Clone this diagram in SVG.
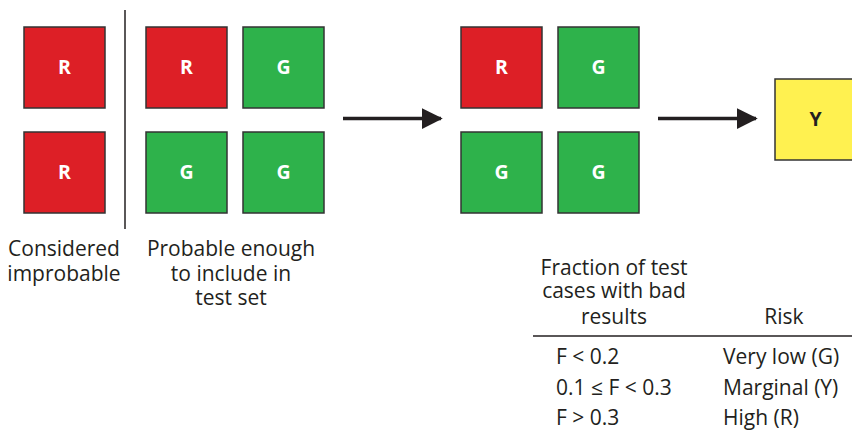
<svg xmlns="http://www.w3.org/2000/svg" width="852" height="430" viewBox="0 0 852 430">
  <style>
    .box { stroke: #333; stroke-width: 1.5; }
    .red { fill: #dd1f26; }
    .green { fill: #2eb24b; }
    .yellow { fill: #fff150; }
    .lbl { font-family: "Open Sans", "Noto Sans", sans-serif; font-weight: bold; font-size: 19.5px; fill: #fff; text-anchor: middle; }
    .lbl.dark { fill: #231f20; }
    .txt { font-family: "Open Sans", "Noto Sans", sans-serif; font-size: 21px; fill: #231f20; }
    .mid { text-anchor: middle; }
    .conn { stroke: #231f20; stroke-width: 3.5; fill: none; }
  </style>
  <defs>
    <marker id="arrow" markerWidth="6" markerHeight="6" refX="5.5" refY="3" orient="auto" markerUnits="strokeWidth" viewBox="0 0 6 6">
      <path d="M0,0 L6,3 L0,6 Z" fill="#231f20"/>
    </marker>
  </defs>

  <!-- outcomes considered improbable -->
  <g id="improbable-1"><rect class="box red" x="24" y="27" width="81" height="81"/><text class="lbl" x="64.5" y="74">R</text></g>
  <g id="improbable-2"><rect class="box red" x="24" y="132" width="81" height="81"/><text class="lbl" x="64.5" y="179">R</text></g>

  <line x1="125" y1="10" x2="125" y2="229" stroke="#231f20" stroke-width="1.5"/>

  <!-- outcomes in the test set -->
  <g id="set-a1"><rect class="box red" x="146" y="27" width="81" height="81"/><text class="lbl" x="186.5" y="74">R</text></g>
  <g id="set-a2"><rect class="box green" x="243" y="27" width="81" height="81"/><text class="lbl" x="283.5" y="74">G</text></g>
  <g id="set-a3"><rect class="box green" x="146" y="132" width="81" height="81"/><text class="lbl" x="186.5" y="179">G</text></g>
  <g id="set-a4"><rect class="box green" x="243" y="132" width="81" height="81"/><text class="lbl" x="283.5" y="179">G</text></g>

  <!-- test results -->
  <g id="set-b1"><rect class="box red" x="461" y="27" width="81" height="81"/><text class="lbl" x="501.5" y="74">R</text></g>
  <g id="set-b2"><rect class="box green" x="558" y="27" width="81" height="81"/><text class="lbl" x="598.5" y="74">G</text></g>
  <g id="set-b3"><rect class="box green" x="461" y="132" width="81" height="81"/><text class="lbl" x="501.5" y="179">G</text></g>
  <g id="set-b4"><rect class="box green" x="558" y="132" width="81" height="81"/><text class="lbl" x="598.5" y="179">G</text></g>

  <!-- overall risk -->
  <g id="risk"><rect class="box yellow" x="775" y="79" width="82" height="81"/><text class="lbl dark" x="815.5" y="126">Y</text></g>

  <g id="connectors">
    <line class="conn" x1="343" y1="118.5" x2="441" y2="118.5" marker-end="url(#arrow)"/>
    <line class="conn" x1="658" y1="118.5" x2="756" y2="118.5" marker-end="url(#arrow)"/>
  </g>

  <!-- captions -->
  <text class="txt mid" x="64" y="256">Considered</text>
  <text class="txt mid" x="64" y="281">improbable</text>
  <text class="txt mid" x="231" y="256">Probable enough</text>
  <text class="txt mid" x="231" y="281">to include in</text>
  <text class="txt mid" x="231" y="305">test set</text>

  <!-- risk table -->
  <g id="table">
    <text class="txt mid" x="614" y="275">Fraction of test</text>
    <text class="txt mid" x="614" y="298">cases with bad</text>
    <text class="txt mid" x="614" y="324">results</text>
    <text class="txt mid" x="784" y="324">Risk</text>
    <line x1="533" y1="336" x2="852" y2="336" stroke="#231f20" stroke-width="1.5"/>
    <text class="txt" x="556" y="364">F &lt; 0.2</text>
    <text class="txt" x="723" y="364">Very low (G)</text>
    <text class="txt" x="556" y="395">0.1 ≤ F &lt; 0.3</text>
    <text class="txt" x="723" y="395">Marginal (Y)</text>
    <text class="txt" x="556" y="425">F &gt; 0.3</text>
    <text class="txt" x="723" y="425">High (R)</text>
  </g>
</svg>
